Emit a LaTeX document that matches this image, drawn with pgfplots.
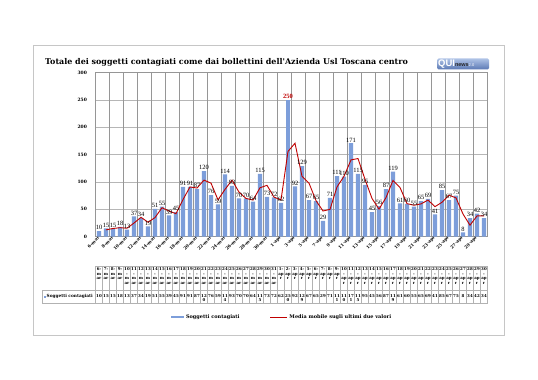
\documentclass[border=0pt]{standalone}
\usepackage{pgfplots}
\pgfplotsset{compat=1.18}
\usepackage{fontspec}
\setmainfont{Liberation Serif}
\newfontfamily\dvs{DejaVu Serif}
\newfontfamily\lsans{Liberation Sans}
\definecolor{barblue}{RGB}{125,158,218}
\definecolor{mared}{RGB}{192,0,0}
\definecolor{gridg}{RGB}{150,150,150}
\begin{document}
\begin{tikzpicture}
\path[fill=white] (0,0) rectangle (538bp,380bp);
\draw[gray!45, line width=0.6bp] (33bp,45bp) rectangle (504bp,335bp);
\node[anchor=west, font=\dvs\bfseries\fontsize{8}{9}\selectfont, inner sep=0pt] at (45bp,318bp) {Totale dei soggetti contagiati come dai bollettini dell'Azienda Usl Toscana centro};
% logo
\shade[top color={rgb,255:red,175;green,195;blue,230}, bottom color={rgb,255:red,90;green,120;blue,180}, rounded corners=1.5bp] (437bp,310.5bp) rectangle (489bp,321.5bp);
\node[anchor=west, inner sep=0pt] at (438bp,316bp) {\textcolor{white}{\lsans\bfseries\fontsize{9.5}{10}\selectfont QUI}\textcolor{black!85}{\lsans\bfseries\fontsize{5.5}{6}\selectfont news}\textcolor{white}{\lsans\fontsize{4}{5}\selectfont 2.0}};

\begin{axis}[
  scale only axis, width=392bp, height=164bp,
  at={(95.5bp,143.3bp)}, anchor=south west,
  xmin=-0.5, xmax=55.5, ymin=0, ymax=300,
  ytick={0,50,...,300},
  xtick={0,2,...,54},
  xticklabels={6-mar,8-mar,10-mar,12-mar,14-mar,16-mar,18-mar,20-mar,22-mar,24-mar,26-mar,28-mar,30-mar,1-apr,3-apr,5-apr,7-apr,9-apr,11-apr,13-apr,15-apr,17-apr,19-apr,21-apr,23-apr,25-apr,27-apr,29-apr},
  extra x ticks={1.5,3.5,...,53.5},
  extra x tick labels={},
  extra x tick style={grid=major, major grid style={gridg, line width=0.5bp}},
  ymajorgrids, major grid style={gridg!70, line width=0.5bp},
  major tick length=0pt,
  axis line style={gridg, line width=0.5bp},
  /pgf/number format/assume math mode=true,
  xticklabel style={font=\dvs\bfseries\fontsize{4.3}{5}\selectfont, rotate=45, anchor=east, inner sep=0.5bp},
  yticklabel style={font=\dvs\bfseries\fontsize{4.5}{5}\selectfont, xshift=-5bp},
  clip=false,
  legend style={at={(0.476,-0.49)}, anchor=center, draw=none, fill=none, legend columns=2,
    font=\dvs\bfseries\fontsize{5}{6}\selectfont,
    /tikz/every even column/.append style={column sep=28bp}},
]
\addplot[ybar, bar width=4.2bp, bar shift=0pt, fill=barblue, draw=none,
  nodes near coords, every node near coord/.append style={font=\fontsize{6.5}{7}\selectfont, black, inner sep=1bp},
  legend image code/.code={\fill[barblue] (0bp,-1.3bp) rectangle (13bp,1.3bp);}] table {
x y
0 10
1 15
2 15
3 18
4 13
5 37
6 34
7 19
8 51
9 55
10 39
11 45
12 91
13 91
14 87
15 120
16 76
17 59
18 114
19 93
20 70
21 70
22 64
23 115
24 73
25 72
26 62
28 92
29 129
30 67
31 65
32 29
33 71
34 111
35 110
36 171
37 115
38 95
39 45
40 56
41 87
42 119
43 61
44 60
45 55
46 65
47 69
48 41
49 85
50 67
51 75
52 8
53 34
54 42
55 34
};
\addlegendentry{Soggetti contagiati}
\addplot[ybar, bar width=4.2bp, bar shift=0pt, fill=barblue, draw=none, forget plot,
  nodes near coords, every node near coord/.append style={font=\bfseries\fontsize{6.5}{7}\selectfont, mared, inner sep=1bp}] table {
x y
27 250
};
\addplot[mared, line width=0.9bp, mark=none] table {
x y
1 12.5
2 15
3 16.5
4 15.5
5 25
6 35.5
7 26.5
8 35
9 53
10 47
11 42
12 68
13 91
14 89
15 103.5
16 98
17 67.5
18 86.5
19 103.5
20 81.5
21 70
22 67
23 89.5
24 94
25 72.5
26 67
27 156
28 171
29 110.5
30 98
31 66
32 47
33 50
34 91
35 110.5
36 140.5
37 143
38 105
39 70
40 50.5
41 71.5
42 103
43 90
44 60.5
45 57.5
46 60
47 67
48 55
49 63
50 76
51 71
52 41.5
53 21
54 38
55 38
};
\addlegendentry{Media mobile sugli ultimi due valori}
\end{axis}

% data table
\draw[gray!60, line width=0.4bp] (95.5bp,114bp) -- (487.5bp,114bp);
\draw[gray!60, line width=0.4bp] (42bp,90bp) -- (487.5bp,90bp);
\draw[gray!60, line width=0.4bp] (42bp,77bp) -- (487.5bp,77bp);
\draw[gray!60, line width=0.4bp] (42bp,77bp) -- (42bp,90bp);
\foreach \k in {0,...,56} {
  \draw[gray!60, line width=0.4bp] ({95.5bp+7bp*\k},77bp) -- ({95.5bp+7bp*\k},114bp);
}
\fill[barblue] (43.5bp,82.3bp) rectangle (45.5bp,84.3bp);
\node[anchor=west, inner sep=0pt, font=\dvs\bfseries\fontsize{4.3}{5}\selectfont] at (46.5bp,83.3bp) {Soggetti contagiati};
\foreach \v [count=\i from 0] in {10,15,15,18,13,37,34,19,51,55,39,45,91,91,87,{12\\0},76,59,{11\\4},93,70,70,64,{11\\5},73,72,62,{25\\0},92,{12\\9},67,65,29,71,{11\\1},{11\\0},{17\\1},{11\\5},95,45,56,87,{11\\9},61,60,55,65,69,41,85,67,75,8,34,42,34} {
  \pgfmathtruncatemacro\dd{\i<26 ? \i+6 : \i-25}
  \ifnum\i<26 \def\mo{m\\ar}\else\def\mo{ap\\r}\fi
  \ifnum\dd<10 \edef\hd{\dd-\noexpand\\\expandafter\noexpand\mo}\else\edef\hd{\dd\noexpand\\-\noexpand\\\expandafter\noexpand\mo}\fi
  \node[anchor=north, inner sep=0pt, align=center, font=\dvs\bfseries\fontsize{4}{4.6}\selectfont] at ({99bp+7bp*\i},112.5bp) {\hd};
  \node[anchor=north, inner sep=0pt, align=center, font=\dvs\bfseries\fontsize{4}{4.6}\selectfont] at ({99bp+7bp*\i},86bp) {\v};
}
\end{tikzpicture}
\end{document}
